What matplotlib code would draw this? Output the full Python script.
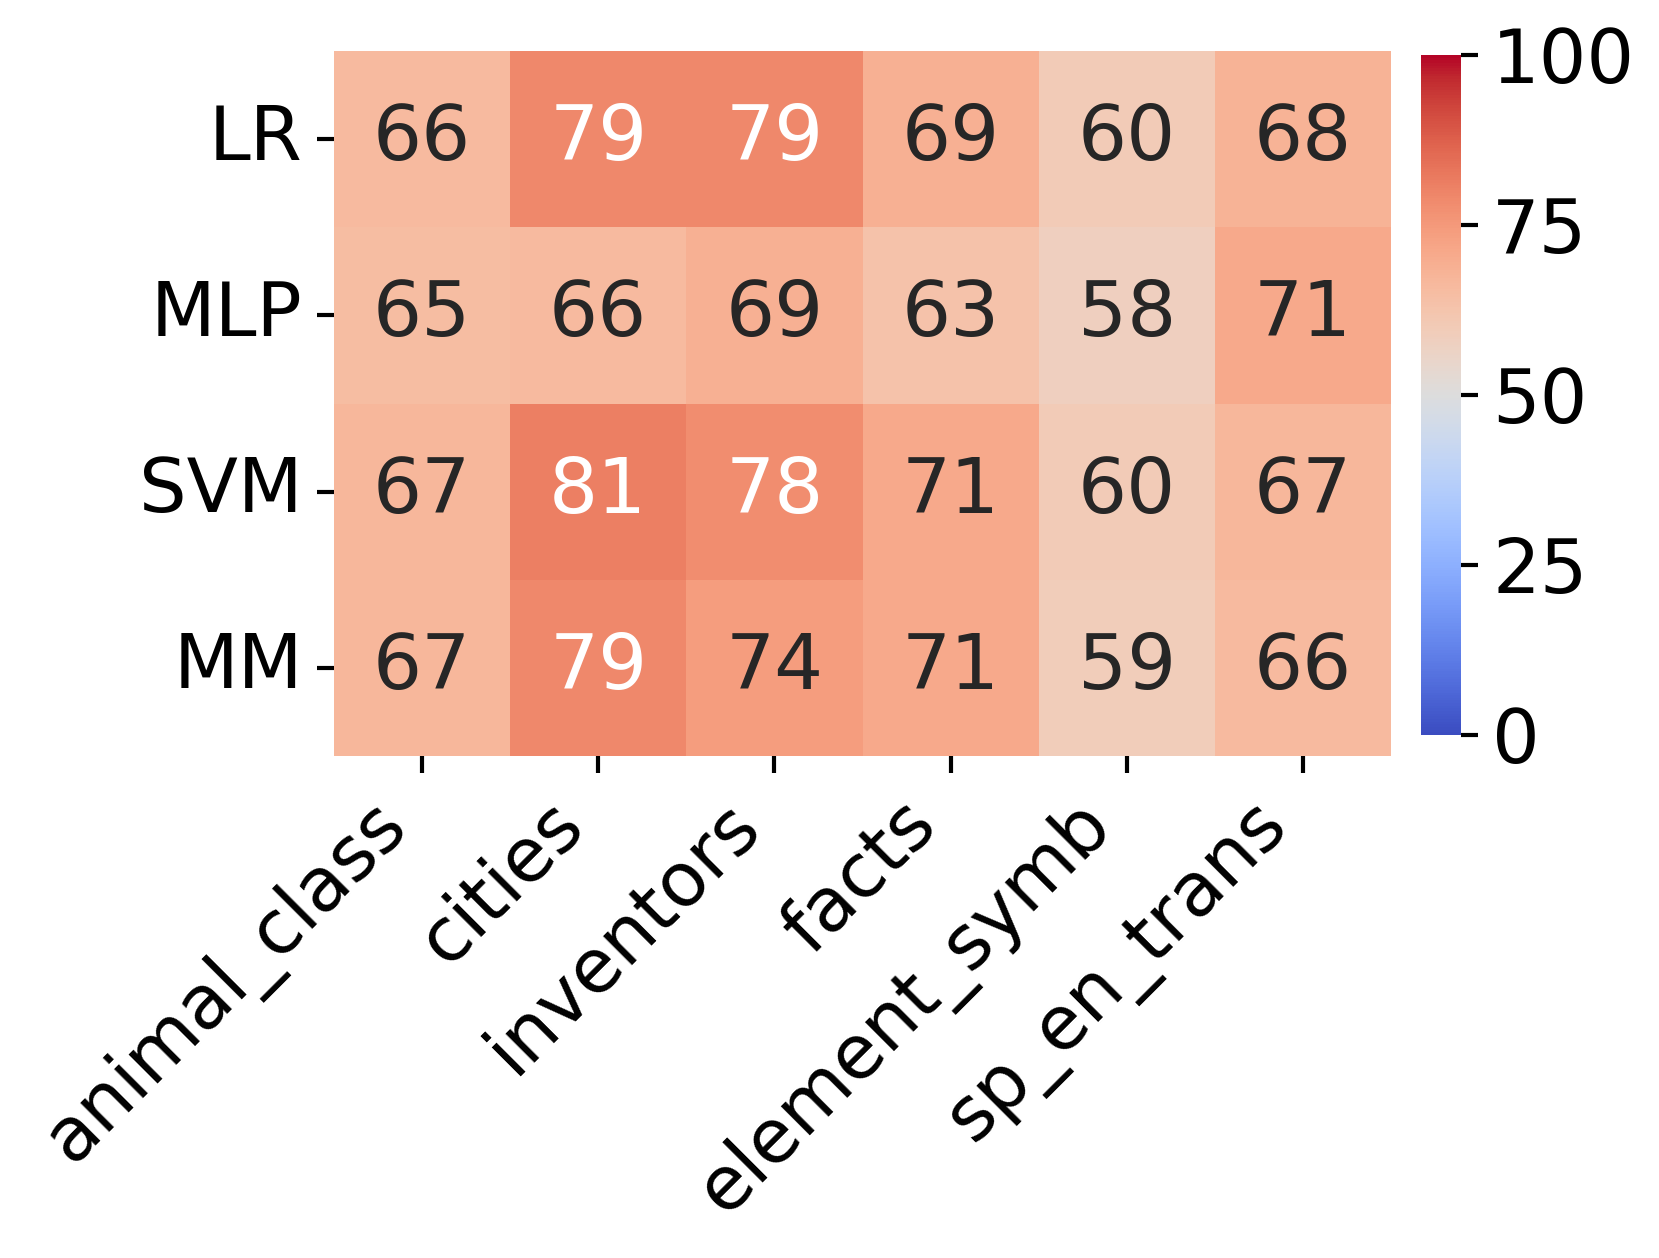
import matplotlib
matplotlib.use("Agg")
import matplotlib.pyplot as plt
import seaborn as sns
import numpy as np

models = ["LR", "MLP", "SVM", "MM"]
datasets = ["animal_class", "cities", "inventors", "facts", "element_symb", "sp_en_trans"]
acc_lr = [66, 79, 79, 69, 60, 68]
acc_mlp = [65, 66, 69, 63, 58, 71]
acc_svm = [67, 81, 78, 71, 60, 67]
acc_mm = [67, 79, 74, 71, 59, 66]

vals = np.array([acc_lr, acc_mlp, acc_svm, acc_mm])

W, H, dpi = 1659, 1258, 300
fs = 18
fig = plt.figure(figsize=(W / dpi, H / dpi), dpi=dpi)
ax = fig.add_axes([334 / W, 1 - 756 / H, (1391 - 334) / W, (756 - 51) / H])
cax = fig.add_axes([1421 / W, 1 - 735 / H, (1461 - 1421) / W, (735 - 55) / H])

sns.heatmap(vals, ax=ax, cbar_ax=cax, cmap="coolwarm", vmin=0, vmax=100,
            annot=True, fmt="d", annot_kws={"fontsize": 18.5},
            xticklabels=datasets, yticklabels=models)

ax.tick_params(axis="both", labelsize=fs, length=4, width=1)
ax.set_yticklabels(models, rotation=0)
ax.set_xticklabels(datasets, rotation=45, ha="right")
cax.tick_params(labelsize=fs, length=4, width=1)
cax.set_yticks([0, 25, 50, 75, 100])

fig.savefig("out.png", dpi=dpi)
